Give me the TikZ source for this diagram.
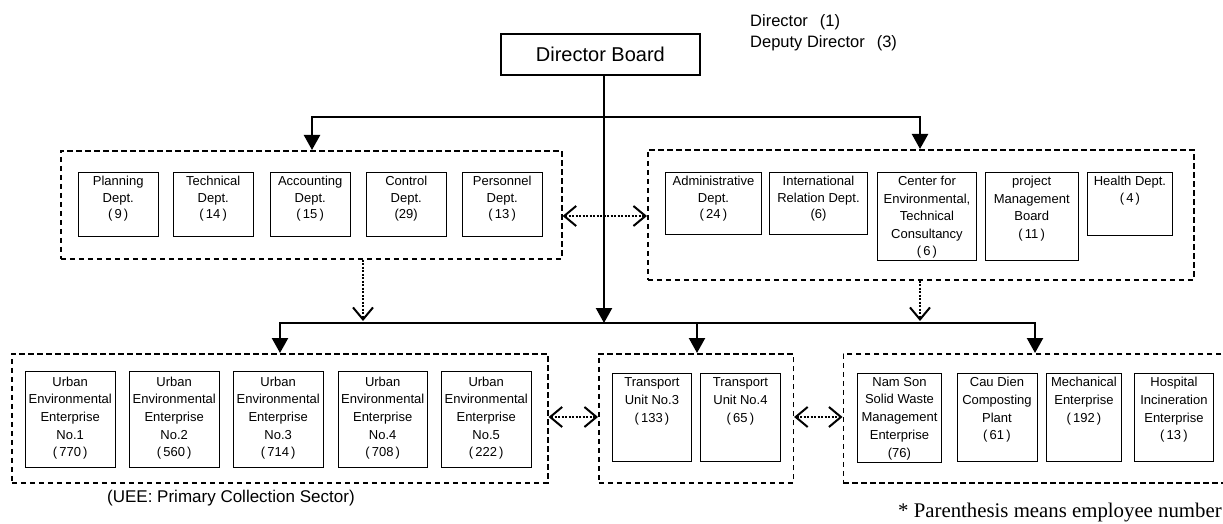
\documentclass[tikz,border=0pt]{standalone}
\usepackage{fontspec}
\setmainfont{Liberation Sans}
\newfontfamily\serifnote{Liberation Serif}
\usetikzlibrary{arrows.meta}
\begin{document}
\begin{tikzpicture}[x=1pt,y=-1pt,
  grp/.style={draw, line width=1.6pt, dash pattern=on 5.5pt off 3.5pt, inner sep=0pt, anchor=north west},
  bx/.style={draw, line width=0.9pt, inner sep=0pt, anchor=north west},
  tx/.style={anchor=north, align=center, inner xsep=0pt, inner ysep=4pt, font=\fontsize{13pt}{16.5pt}\selectfont},
  txl/.style={tx, font=\fontsize{13pt}{17.5pt}\selectfont},
  txb/.style={tx, inner ysep=5.5pt, font=\fontsize{13pt}{17.7pt}\selectfont},
  lbl/.style={anchor=base west, inner sep=0pt},
  main/.style={line width=2.3pt},
  tri/.tip={Triangle[length=15pt,width=16pt]},
  barb/.tip={Straight Barb[length=12pt,width=20pt,line width=2pt]},
  arr/.style={main, -tri},
  arr2/.style={main, tri-tri},
  dotl/.style={line width=2.2pt, dash pattern=on 2pt off 1.5pt},
  darr/.style={dotl, -barb},
  ddarr/.style={dotl, barb-barb},
]
\useasboundingbox (0,0) rectangle (1223,524);
\clip (0,0) rectangle (1223,524);

% top
\node[draw, line width=1.8pt, minimum width=199pt, minimum height=41pt, inner sep=0pt, anchor=north west,
      font=\fontsize{20pt}{24pt}\selectfont] (db) at (500,33) {Director Board};
\node[lbl, font=\fontsize{16.5pt}{20pt}\selectfont] (dir) at (750,27) {Director\hspace{12pt}(1)};
\node[lbl, font=\fontsize{16.5pt}{20pt}\selectfont] (dep) at (750,48) {Deputy Director\hspace{12pt}(3)};

% groups
\node[grp, minimum width=501pt, minimum height=108pt] (lg) at (60,150) {};
\node[grp, minimum width=546pt, minimum height=130pt] (rg) at (647,149) {};
\node[grp, minimum width=536pt, minimum height=129pt] (bl) at (11,353) {};
\node[grp, minimum width=194.5pt, minimum height=129pt] (bm) at (598,353) {};
\node[grp, minimum width=390pt, minimum height=129pt] (br) at (842.5,353) {};

% left departments
\node[bx, minimum width=79.5pt, minimum height=64pt] (p1) at (78,172) {};
\node[bx, minimum width=79.5pt, minimum height=64pt] (p2) at (173,172) {};
\node[bx, minimum width=79.5pt, minimum height=64pt] (p3) at (270,172) {};
\node[bx, minimum width=79.5pt, minimum height=64pt] (p4) at (366,172) {};
\node[bx, minimum width=79.5pt, minimum height=64pt] (p5) at (462,172) {};
\node[tx] (p1t) at (p1.north) {Planning\\Dept.\\(\,9\,)};
\node[tx] (p2t) at (p2.north) {Technical\\Dept.\\(\,14\,)};
\node[tx] (p3t) at (p3.north) {Accounting\\Dept.\\(\,15\,)};
\node[tx] (p4t) at (p4.north) {Control\\Dept.\\(29)};
\node[tx] (p5t) at (p5.north) {Personnel\\Dept.\\(\,13\,)};

% right departments
\node[bx, minimum width=96pt, minimum height=62pt] (q1) at (665,172) {};
\node[bx, minimum width=98pt, minimum height=62pt] (q2) at (769,172) {};
\node[bx, minimum width=99pt, minimum height=88pt] (q3) at (877,172) {};
\node[bx, minimum width=92.5pt, minimum height=88pt] (q4) at (985,172) {};
\node[bx, minimum width=85pt, minimum height=63pt] (q5) at (1087,172) {};
\node[tx] (q1t) at (q1.north) {Administrative\\Dept.\\(\,24\,)};
\node[tx] (q2t) at (q2.north) {International\\Relation Dept.\\(6)};
\node[txl] (q3t) at (q3.north) {Center for\\Environmental,\\Technical\\Consultancy\\(\,6\,)};
\node[txl] (q4t) at (q4.north) {project\\Management\\Board\\(\,11\,)};
\node[tx] (q5t) at (q5.north) {Health Dept.\\(\,4\,)};

% urban environmental enterprises
\node[bx, minimum width=89.5pt, minimum height=96pt] (u1) at (25,371) {};
\node[bx, minimum width=89.5pt, minimum height=96pt] (u2) at (129,371) {};
\node[bx, minimum width=89.5pt, minimum height=96pt] (u3) at (233,371) {};
\node[bx, minimum width=89.5pt, minimum height=96pt] (u4) at (337.5,371) {};
\node[bx, minimum width=89.5pt, minimum height=96pt] (u5) at (441,371) {};
\node[txb] (u1t) at (u1.north) {Urban\\Environmental\\Enterprise\\No.1\\(\,770\,)};
\node[txb] (u2t) at (u2.north) {Urban\\Environmental\\Enterprise\\No.2\\(\,560\,)};
\node[txb] (u3t) at (u3.north) {Urban\\Environmental\\Enterprise\\No.3\\(\,714\,)};
\node[txb] (u4t) at (u4.north) {Urban\\Environmental\\Enterprise\\No.4\\(\,708\,)};
\node[txb] (u5t) at (u5.north) {Urban\\Environmental\\Enterprise\\No.5\\(\,222\,)};

% transport units
\node[bx, minimum width=79pt, minimum height=88pt] (t1) at (612,373) {};
\node[bx, minimum width=80pt, minimum height=88pt] (t2) at (700,373) {};
\node[txb, inner ysep=4.5pt] (t1t) at (t1.north) {Transport\\Unit No.3\\(\,133\,)};
\node[txb, inner ysep=4.5pt] (t2t) at (t2.north) {Transport\\Unit No.4\\(\,65\,)};

% other enterprises
\node[bx, minimum width=84pt, minimum height=89pt] (e1) at (857,373) {};
\node[bx, minimum width=80pt, minimum height=88pt] (e2) at (956.5,373) {};
\node[bx, minimum width=75pt, minimum height=88pt] (e3) at (1046,373) {};
\node[bx, minimum width=79pt, minimum height=88pt] (e4) at (1134,373) {};
\node[txb, inner ysep=4pt] (e1t) at (e1.north) {Nam Son\\Solid Waste\\Management\\Enterprise\\(76)};
\node[txb, inner ysep=4pt] (e2t) at (e2.north) {Cau Dien\\Composting\\Plant\\(\,61\,)};
\node[txb, inner ysep=4pt] (e3t) at (e3.north) {Mechanical\\Enterprise\\(\,192\,)};
\node[txb, inner ysep=4pt] (e4t) at (e4.north) {Hospital\\Incineration\\Enterprise\\(\,13\,)};

% notes
\node[lbl, font=\fontsize{17pt}{20pt}\selectfont] (uee) at (107,502) {(UEE: Primary Collection Sector)};
\node[lbl, font=\serifnote\fontsize{20.8pt}{24pt}\selectfont] (note) at (898,517) {* Parenthesis means employee number};

% junction coordinates
\coordinate (tl) at (312,117);
\coordinate (tr) at (920,117);
\coordinate (sp) at (604,323);
\coordinate (b1) at (280,323);
\coordinate (b2) at (697,323);
\coordinate (b3) at (1035,323);
\coordinate (d1) at (363,321);
\coordinate (d2) at (920,321);
\coordinate (h1) at (604,216);
\coordinate (h2) at (700,417);

% main connectors
\draw[arr] (db.south -| sp) -- (sp);
\draw[arr2] (tl |- lg.north) -- (tl) -- (tr) -- (tr |- rg.north);
\draw[arr2] (b1 |- bl.north) -- (b1) -- (b3) -- (b3 |- br.north);
\draw[arr] (b2) -- (b2 |- bm.north);

% dotted connectors
\draw[darr] (lg.south -| d1) -- (d1);
\draw[darr] (rg.south -| d2) -- (d2);
\draw[ddarr] (lg.east |- h1) -- (rg.west |- h1);
\draw[ddarr] (bl.east |- h2) -- (bm.west |- h2);
\draw[ddarr] (bm.east |- h2) -- (br.west |- h2);
\end{tikzpicture}
\end{document}
